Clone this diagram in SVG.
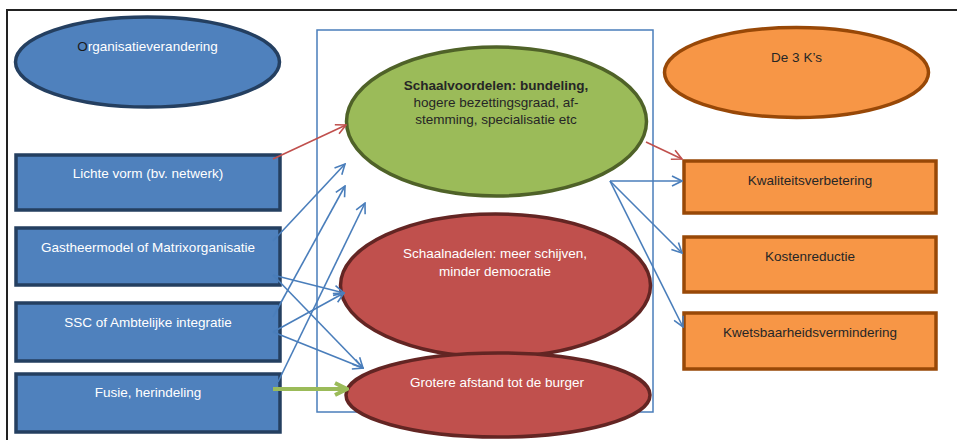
<svg xmlns="http://www.w3.org/2000/svg" width="957" height="440" viewBox="0 0 957 440">
<style>
text{font-family:"Liberation Sans",Arial,sans-serif;font-size:13.5px;text-anchor:middle}
.w{fill:#ffffff}
.d{fill:#262626}
.bluebox{fill:#4F81BD;stroke:#243F60;stroke-width:3.5}
.orbox{fill:#F79646;stroke:#984807;stroke-width:3.5}
.blue{stroke:#4A7EBB;stroke-width:1.6;fill:none}
.red{stroke:#C0504D;stroke-width:1.6;fill:none}
.green{stroke:#9BBB59;stroke-width:4;fill:none}
</style>
<defs>
<marker id="ab" viewBox="0 0 12 12" refX="11" refY="6" markerWidth="12" markerHeight="12" markerUnits="userSpaceOnUse" orient="auto">
<path d="M1,1 L11,6 L1,11" fill="none" stroke="#4A7EBB" stroke-width="1.6"/>
</marker>
<marker id="ar" viewBox="0 0 12 12" refX="11" refY="6" markerWidth="12" markerHeight="12" markerUnits="userSpaceOnUse" orient="auto">
<path d="M1,1 L11,6 L1,11" fill="none" stroke="#C0504D" stroke-width="1.6"/>
</marker>
<marker id="ag" viewBox="0 0 16 16" refX="14" refY="8" markerWidth="16" markerHeight="16" markerUnits="userSpaceOnUse" orient="auto">
<path d="M2,2 L14,8 L2,14" fill="none" stroke="#9BBB59" stroke-width="4"/>
</marker>
</defs>
<rect width="957" height="440" fill="#ffffff"/>
<g id="frame">
<path d="M7,440 V10 H957" fill="none" stroke="#222" stroke-width="2"/>
<rect x="317" y="30" width="336" height="382" fill="none" stroke="#4A7EBB" stroke-width="1.5"/>
</g>
<g id="organisatieverandering">
<ellipse cx="147.5" cy="62" rx="132" ry="45" fill="#4F81BD" stroke="#243F60" stroke-width="3.5"/>
<text x="147.5" y="51" class="w"><tspan fill="#1a1a1a">O</tspan>rganisatieverandering</text>
</g>
<g id="de3ks">
<ellipse cx="796.5" cy="72.5" rx="132" ry="45" fill="#F79646" stroke="#984807" stroke-width="3.5"/>
<text x="796.5" y="62" class="d">De 3 K’s</text>
</g>
<g id="lichte-vorm">
<rect x="16" y="155" width="264" height="55" class="bluebox"/>
<text x="148" y="178" class="w">Lichte vorm (bv. netwerk)</text>
</g>
<g id="gastheermodel">
<rect x="16" y="228" width="264" height="57" class="bluebox"/>
<text x="148" y="252" class="w">Gastheermodel of Matrixorganisatie</text>
</g>
<g id="ssc">
<rect x="16" y="303" width="264" height="58" class="bluebox"/>
<text x="148" y="327" class="w">SSC of Ambtelijke integratie</text>
</g>
<g id="fusie">
<rect x="16" y="374" width="264" height="58" class="bluebox"/>
<text x="148" y="397" class="w">Fusie, herindeling</text>
</g>
<g id="schaalvoordelen">
<ellipse cx="496.5" cy="121.5" rx="150" ry="74.5" fill="#9BBB59" stroke="#4F6228" stroke-width="3.5"/>
<text x="496" y="90" class="d" font-weight="bold">Schaalvoordelen: bundeling,</text>
<text x="496" y="107" class="d">hogere bezettingsgraad, af-</text>
<text x="496" y="124" class="d">stemming, specialisatie etc</text>
</g>
<g id="schaalnadelen">
<ellipse cx="495.5" cy="285.5" rx="155" ry="71.5" fill="#C0504D" stroke="#632523" stroke-width="3.5"/>
<text x="495" y="258" class="w">Schaalnadelen: meer schijven,</text>
<text x="495" y="276" class="w">minder democratie</text>
</g>
<g id="grotere-afstand">
<ellipse cx="498" cy="395" rx="152" ry="42" fill="#C0504D" stroke="#632523" stroke-width="3.5"/>
<text x="497" y="387" class="w">Grotere afstand tot de burger</text>
</g>
<g id="kwaliteit">
<rect x="684" y="161" width="252" height="52" class="orbox"/>
<text x="810" y="185" class="d">Kwaliteitsverbetering</text>
</g>
<g id="kosten">
<rect x="684" y="237" width="252" height="55" class="orbox"/>
<text x="810" y="261" class="d">Kostenreductie</text>
</g>
<g id="kwetsbaarheid">
<rect x="684" y="313" width="252" height="56" class="orbox"/>
<text x="810" y="337" class="d">Kwetsbaarheidsvermindering</text>
</g>
<g id="connectors">
<line x1="273" y1="159" x2="346" y2="125" class="red" marker-end="url(#ar)"/>
<line x1="646" y1="142" x2="682" y2="159" class="red" marker-end="url(#ar)"/>
<line x1="273" y1="241" x2="345" y2="164" class="blue" marker-end="url(#ab)"/>
<line x1="273" y1="317" x2="345" y2="186" class="blue" marker-end="url(#ab)"/>
<line x1="278" y1="382" x2="365" y2="203" class="blue" marker-end="url(#ab)"/>
<line x1="273" y1="275" x2="344" y2="293" class="blue" marker-end="url(#ab)"/>
<line x1="273" y1="275" x2="363" y2="368" class="blue" marker-end="url(#ab)"/>
<line x1="273" y1="332" x2="344" y2="293" class="blue" marker-end="url(#ab)"/>
<line x1="273" y1="332" x2="363" y2="368" class="blue" marker-end="url(#ab)"/>
<line x1="273" y1="389" x2="347" y2="389" class="green" marker-end="url(#ag)"/>
<line x1="610" y1="181" x2="682" y2="181" class="blue" marker-end="url(#ab)"/>
<line x1="610" y1="181" x2="682" y2="253" class="blue" marker-end="url(#ab)"/>
<line x1="610" y1="181" x2="683" y2="327" class="blue" marker-end="url(#ab)"/>
</g>
</svg>
